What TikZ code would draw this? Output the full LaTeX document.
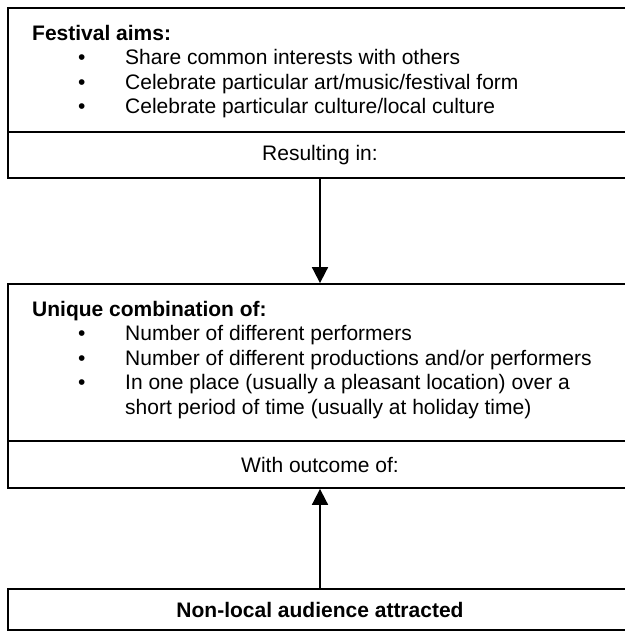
\documentclass[tikz,border=0pt]{standalone}
\usepackage{fontspec}
\setmainfont{Liberation Sans}
\usetikzlibrary{arrows.meta}
\newcommand\bitem[1]{\makebox[93bp][l]{\hspace{46bp}\textbullet}#1}
\newcommand\bcont[1]{\makebox[93bp][l]{}#1}
\begin{document}
\begin{tikzpicture}[x=1bp,y=-1bp,
  box/.style={draw=black, line width=1.8bp, rectangle, minimum width=624bp, inner sep=0pt,
    font=\fontsize{21bp}{24.4bp}\selectfont},
  txt/.style={anchor=base west, align=left, inner sep=0pt,
    font=\fontsize{21bp}{24.4bp}\selectfont},
  arr/.style={line width=1.8bp, -{Triangle[length=16bp,width=16bp]}}]
\useasboundingbox (0,0) rectangle (625,631);
\clip (0,0) rectangle (625,631);
% top box
\node[box, minimum height=124bp] (aims) at (320,70) {};
\node[box, minimum height=46bp] (res) at (320,155) {Resulting in:};
% anchor is the baseline of the last line
\node[txt] (aimstxt) at (32,113.7) {\textbf{Festival aims:}\\
  \bitem{Share common interests with others}\\
  \bitem{Celebrate particular art/music/festival form}\\
  \bitem{Celebrate particular culture/local culture}};
% middle box
\node[box, minimum height=157bp] (comb) at (320,362.5) {};
\node[box, minimum height=47bp] (outc) at (320,464.5) {With outcome of:};
\node[txt] (combtxt) at (32,414.1) {\textbf{Unique combination of:}\\
  \bitem{Number of different performers}\\
  \bitem{Number of different productions and/or performers}\\
  \bitem{In one place (usually a pleasant location) over a}\\
  \bcont{short period of time (usually at holiday time)}};
% bottom box
\node[box, minimum height=41bp] (nl) at (320,609.5) {\textbf{Non-local audience attracted}};
% connectors
\draw[arr] (res.south) -- (comb.north);
\draw[arr] (nl.north) -- (outc.south);
\end{tikzpicture}
\end{document}
